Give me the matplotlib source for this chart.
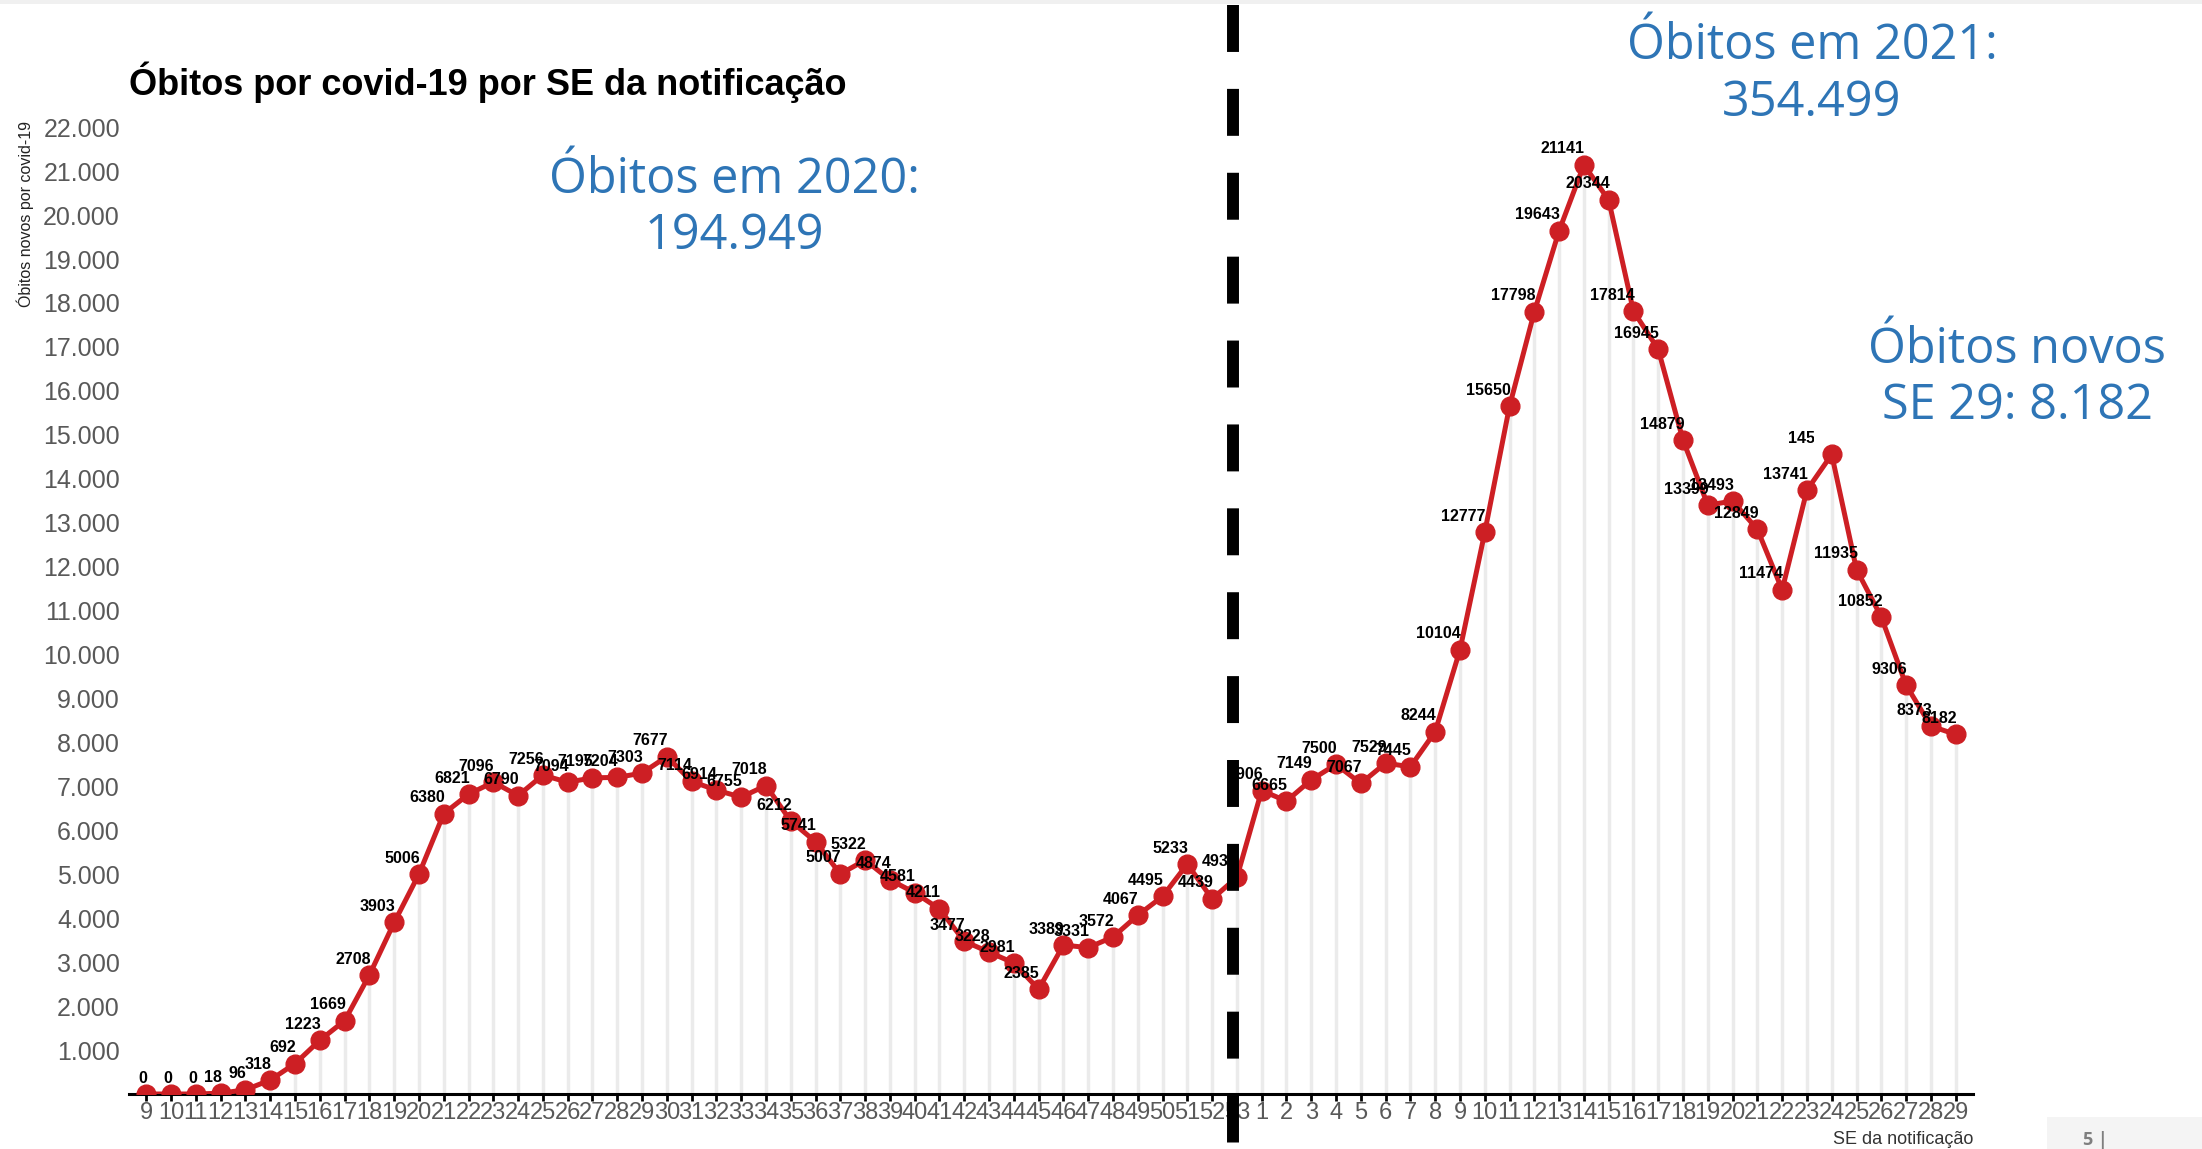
import matplotlib
matplotlib.use('Agg')
import matplotlib.pyplot as plt
from matplotlib.lines import Line2D
from matplotlib.patches import Rectangle
from matplotlib.transforms import Bbox, TransformedBbox, blended_transform_factory

plt.rcParams['lines.scale_dashes'] = False

# semanas epidemiologicas (SE) e obitos novos
weeks_2020 = list(range(9, 54))
obitos_2020 = [0, 0, 0, 18, 96, 318, 692, 1223, 1669, 2708, 3903, 5006, 6380, 6821,
               7096, 6790, 7256, 7094, 7195, 7204, 7303, 7677, 7114, 6914, 6755, 7018,
               6212, 5741, 5007, 5322, 4874, 4581, 4211, 3477, 3228, 2981, 2385, 3389,
               3331, 3572, 4067, 4495, 5233, 4439, 4930]
weeks_2021 = list(range(1, 30))
obitos_2021 = [6906, 6665, 7149, 7500, 7067, 7529, 7445, 8244, 10104, 12777, 15650,
               17798, 19643, 21141, 20344, 17814, 16945, 14879, 13399, 13493, 12849,
               11474, 13741, 14552, 11935, 10852, 9306, 8373, 8182]

week_labels = [str(w) for w in weeks_2020 + weeks_2021]
values = obitos_2020 + obitos_2021
x = list(range(len(values)))
y_ticks = list(range(1000, 23000, 1000))

narrow = ['Liberation Sans Narrow', 'Liberation Sans', 'DejaVu Sans']
arial = ['Liberation Sans', 'DejaVu Sans']
blue_font = ['Open Sans', 'DejaVu Sans']
red = '#CD1F24'
blue = '#2E75B6'

W, H = 2202, 1149
fig = plt.figure(figsize=(W / 100, H / 100), dpi=100)
fig.patch.set_facecolor('white')
ax = fig.add_axes([129 / W, (H - 1094) / H, (1973 - 129) / W, 980 / H])

# drop lines
ax.vlines(x, 0, values, color='#ebebeb', lw=2.5, zorder=1)
ax.plot(x, values, color=red, lw=3.6, marker='o', ms=13.5, zorder=3)

# value labels (right edge at the point)
for i, v in enumerate(values):
    t = ax.annotate(str(v), (i, v), xytext=(0.8, 11.5), textcoords='offset points',
                    ha='right', va='center', fontsize=11.5, fontweight='bold',
                    family=arial, color='black', zorder=4)
    if week_labels[i] == '24' and i > 44:
        # label cut by the text box on the slide
        t.set_clip_box(TransformedBbox(Bbox([[-1, -1000], [67.3, 30000]]), ax.transData))
        t.set_clip_on(True)

ax.set_xlim(-0.7, len(values) - 1 + 0.7)
ax.set_ylim(0, 22300)
ax.set_xticks(x)
ax.set_xticklabels(week_labels, family=narrow, fontsize=17, color='#595959')
ax.set_yticks(y_ticks)
ax.set_yticklabels([f'{t:,}'.replace(',', '.') for t in y_ticks],
                   family=narrow, fontsize=18, color='#595959')
ax.tick_params(axis='x', length=5, width=2, color='black', pad=1)
ax.tick_params(axis='y', length=0, pad=6.5)
for s in ['top', 'right', 'left']:
    ax.spines[s].set_visible(False)
ax.spines['bottom'].set_linewidth(2.2)
ax.spines['bottom'].set_color('black')

# divider between 2020 and 2021
tr = blended_transform_factory(ax.transData, fig.transFigure)
ax.add_line(Line2D([43.85, 43.85], [1 - 5 / H, 0], transform=tr, color='black',
                   lw=8.6, dashes=(33.8, 26.6), clip_on=False, zorder=6))

# titles and axis labels
fig.text(129 / W, 1 - 95 / H, 'Óbitos por covid-19 por SE da notificação',
         family=arial, fontsize=26, fontweight='bold', ha='left', va='baseline')
fig.text(25 / W, 1 - 214 / H, 'Óbitos novos por covid-19', family=narrow, fontsize=11.5,
         rotation=90, ha='center', va='center', color='#222222')
fig.text(1973 / W, 1 - 1139 / H, 'SE da notificação', family=narrow, fontsize=13,
         ha='right', va='center', color='#333333')

# blue annotations
for (cx, cy, txt) in [(734, 180, 'Óbitos em 2020:'), (734, 236, '194.949'),
                      (1812, 46, 'Óbitos em 2021:'), (1812, 103, '354.499'),
                      (2017, 350, 'Óbitos novos'), (2017, 406, 'SE 29: 8.182')]:
    fig.text(cx / W, 1 - cy / H, txt, family=blue_font, fontsize=35, color=blue,
             ha='center', va='center')

# slide decorations
fig.add_artist(Rectangle((0, 1 - 4 / H), 1, 4 / H, transform=fig.transFigure,
                         color='#f0f0f0', lw=0))
fig.add_artist(Rectangle((2047 / W, 0), 1 - 2047 / W, 32 / H, transform=fig.transFigure,
                         color='#f4f4f4', lw=0))
fig.text(2083 / W, 1 - 1140 / H, '5 |', family=blue_font, fontsize=13,
         fontweight='bold', color='#7f7f7f', ha='left', va='center')

fig.savefig('out.png', dpi=100)
